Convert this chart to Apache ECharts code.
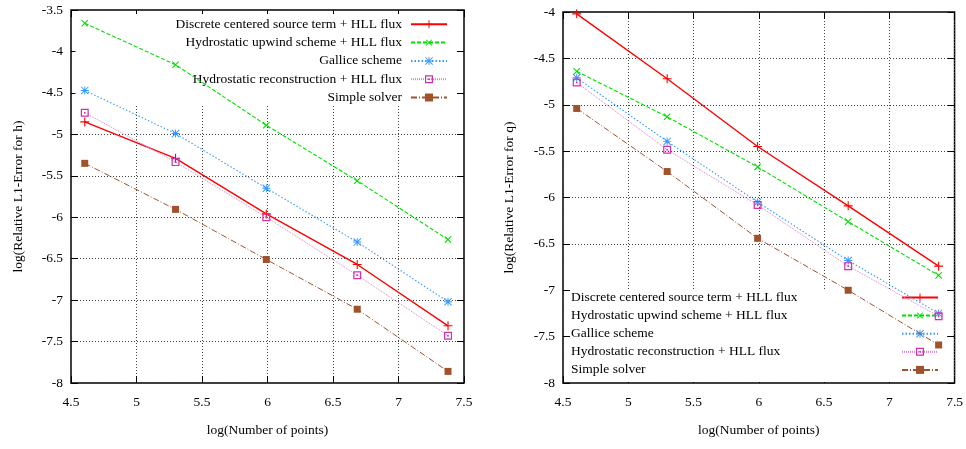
<!DOCTYPE html>
<html>
<head>
<meta charset="utf-8">
<script src="https://cdn.jsdelivr.net/npm/echarts@6/dist/echarts.min.js"></script>
<style>html,body{margin:0;padding:0;background:#fff}#c{width:966px;height:449px}</style>
</head>
<body>
<div id="c"></div>
<script>
// ---- data ----
var xPoints = [4.605, 5.298, 5.991, 6.685, 7.378];
var seriesNames = [
  'Discrete centered source term + HLL flux',
  'Hydrostatic upwind scheme + HLL flux',
  'Gallice scheme',
  'Hydrostatic reconstruction + HLL flux',
  'Simple solver'
];
var hDiscrete = [-4.85, -5.29, -5.96, -6.57, -7.31];
var hUpwind   = [-3.66, -4.16, -4.89, -5.56, -6.27];
var hGallice  = [-4.47, -4.99, -5.65, -6.30, -7.02];
var hRecon    = [-4.74, -5.335, -6.00, -6.70, -7.43];
var hSimple   = [-5.35, -5.905, -6.51, -7.11, -7.86];

var qDiscrete = [-4.02, -4.72, -5.45, -6.09, -6.74];
var qUpwind   = [-4.64, -5.13, -5.67, -6.26, -6.84];
var qGallice  = [-4.71, -5.395, -6.05, -6.68, -7.25];
var qRecon    = [-4.76, -5.485, -6.08, -6.74, -7.28];
var qSimple   = [-5.04, -5.72, -6.44, -7.00, -7.59];

var xTitle = 'log(Number of points)';
var yTitleH = 'log(Relative L1-Error for h)';
var yTitleQ = 'log(Relative L1-Error for q)';

// ---- styles ----
var FONT = 'Liberation Serif';
var FS = 13.5;
var PLUS = 'path://M0,4.4H10V5.6H0Z M4.4,0H5.6V10H4.4Z';
var STAR = 'path://M0,4.4H10V5.6H0Z M4.4,0H5.6V10H4.4Z M0,0.85L0.85,0L10,9.15L9.15,10Z M9.15,0L10,0.85L0.85,10L0,9.15Z';
var OSQ = 'path://M0,0H10V10H0Z M1.5,1.5V8.5H8.5V1.5Z M4,4H6V6H4Z';
var styles = [
  {color: '#ff0000', symbol: PLUS, size: 9, rotate: 0, line: {width: 1.4, type: 'solid'}},
  {color: '#00e000', symbol: PLUS, size: 9, rotate: 45, line: {width: 1.1, type: [4, 2]}},
  {color: '#3399ff', symbol: STAR, size: 8, rotate: 0, line: {width: 1.1, type: [1.5, 2]}},
  {color: '#d030a8', symbol: OSQ, size: 8, rotate: 0, line: {width: 1, type: [1, 1], color: '#e080d0'}},
  {color: '#a0522d', symbol: 'rect', size: 7, rotate: 0, line: {width: 1, type: [6, 2, 1, 2]}}
];

function zip(ys) { return xPoints.map(function (x, i) { return [x, ys[i]]; }); }

function makeSeries(idx, ys, xi, yi) {
  var s = styles[idx];
  return {
    type: 'line', name: seriesNames[idx], xAxisIndex: xi, yAxisIndex: yi,
    data: zip(ys), symbol: s.symbol, symbolSize: s.size, symbolRotate: s.rotate,
    showAllSymbol: true, animation: false, z: 2,
    itemStyle: {color: s.color, borderWidth: 0},
    lineStyle: {color: s.line.color || s.color, width: s.line.width, type: s.line.type}
  };
}

function mainX(gi) {
  return {
    type: 'value', gridIndex: gi, min: 4.5, max: 7.5, interval: 0.5, position: 'bottom',
    axisLine: {show: false},
    axisTick: {show: true, inside: true, length: 7, lineStyle: {color: '#000', width: 1}},
    axisLabel: {show: true, color: '#000', fontFamily: FONT, fontSize: FS, margin: 12, showMinLabel: true, showMaxLabel: true},
    splitLine: {show: true, lineStyle: {color: '#444', width: 1, type: [1, 2]}},
    name: xTitle, nameLocation: 'middle', nameGap: 40,
    nameTextStyle: {color: '#000', fontFamily: FONT, fontSize: FS}
  };
}
function mirrorX(gi) {
  return {
    type: 'value', gridIndex: gi, min: 4.5, max: 7.5, interval: 0.5, position: 'top',
    axisLine: {show: false}, axisLabel: {show: false}, splitLine: {show: false},
    axisTick: {show: true, inside: true, length: 7, lineStyle: {color: '#000', width: 1}}
  };
}
function mainY(gi, max, title, gap) {
  return {
    type: 'value', gridIndex: gi, min: -8, max: max, interval: 0.5, position: 'left',
    axisLine: {show: false},
    axisTick: {show: true, inside: true, length: 7, lineStyle: {color: '#000', width: 1}},
    axisLabel: {show: true, color: '#000', fontFamily: FONT, fontSize: FS, margin: 8, showMinLabel: true, showMaxLabel: true},
    splitLine: {show: true, lineStyle: {color: '#444', width: 1, type: [1, 2]}},
    name: title, nameLocation: 'middle', nameGap: gap,
    nameTextStyle: {color: '#000', fontFamily: FONT, fontSize: FS}
  };
}
function mirrorY(gi, max) {
  return {
    type: 'value', gridIndex: gi, min: -8, max: max, interval: 0.5, position: 'right',
    axisLine: {show: false}, axisLabel: {show: false}, splitLine: {show: false},
    axisTick: {show: true, inside: true, length: 7, lineStyle: {color: '#000', width: 1}}
  };
}

var chart = echarts.init(document.getElementById('c'), null, {renderer: 'canvas'});
var option = {
  backgroundColor: '#fff',
  animation: false,
  grid: [
    {left: 71, right: 502, top: 10, bottom: 66, show: true, borderColor: '#000', borderWidth: 1.5, backgroundColor: 'transparent'},
    {left: 563, right: 9, top: 12, bottom: 66, show: true, borderColor: '#000', borderWidth: 1.5, backgroundColor: 'transparent'}
  ],
  xAxis: [mainX(0), mirrorX(0), mainX(1), mirrorX(1)],
  yAxis: [mainY(0, -3.5, yTitleH, 46), mirrorY(0, -3.5), mainY(1, -4, yTitleQ, 47), mirrorY(1, -4)],
  legend: [
    {
      data: seriesNames, orient: 'vertical', align: 'right', right: 509, top: 14,
      padding: [3.3, 9, 1, 100], backgroundColor: '#fff', z: 1,
      itemWidth: 36, itemHeight: 10, itemGap: 4.3, selectedMode: false,
      formatter: function (n) { return '{t|' + n + '}'; },
      textStyle: {color: '#000', fontFamily: FONT, fontSize: FS, lineHeight: 14,
        rich: {t: {color: '#000', fontFamily: FONT, fontSize: FS, lineHeight: 14, padding: [0, 4, 0, 0]}}}
    },
    {
      data: seriesNames, orient: 'vertical', align: 'right', left: 571, top: 289.5,
      padding: [1, 7, 5, 0], backgroundColor: '#fff', z: 1,
      itemWidth: 36, itemHeight: 10, itemGap: 4.1, selectedMode: false,
      formatter: function (n) { return '{t|' + n + '}'; },
      textStyle: {color: '#000', fontFamily: FONT, fontSize: FS, lineHeight: 14,
        rich: {t: {color: '#000', fontFamily: FONT, fontSize: FS, lineHeight: 14, width: 326, align: 'left'}}}
    }
  ],
  series: [
    makeSeries(0, hDiscrete, 0, 0), makeSeries(1, hUpwind, 0, 0), makeSeries(2, hGallice, 0, 0),
    makeSeries(3, hRecon, 0, 0), makeSeries(4, hSimple, 0, 0),
    makeSeries(0, qDiscrete, 2, 2), makeSeries(1, qUpwind, 2, 2), makeSeries(2, qGallice, 2, 2),
    makeSeries(3, qRecon, 2, 2), makeSeries(4, qSimple, 2, 2)
  ]
};
chart.setOption(option);
</script>
</body>
</html>
